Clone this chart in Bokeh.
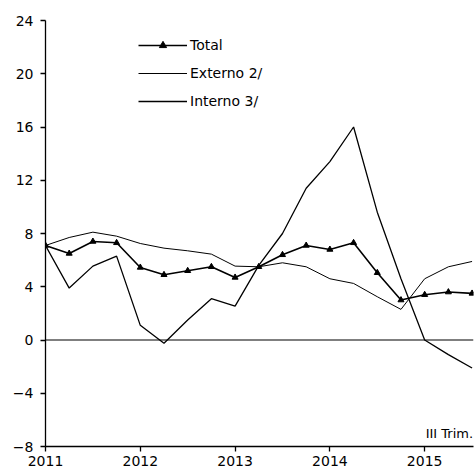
from bokeh.plotting import figure
from bokeh.models import Legend, LegendItem, Span, Label, FixedTicker, Range1d
from bokeh.embed import file_html
from bokeh.resources import INLINE

# Quarterly index: 0 = 2011 Q1 ... 18 = 2015 Q3
quarters = list(range(19))
total = [7.1, 6.5, 7.4, 7.3, 5.45, 4.9, 5.2, 5.5, 4.7, 5.5, 6.4, 7.1, 6.8, 7.3, 5.05, 3.0, 3.4, 3.6, 3.5]
externo = [7.1, 7.7, 8.1, 7.8, 7.25, 6.9, 6.7, 6.45, 5.55, 5.5, 5.8, 5.5, 4.6, 4.25, 3.25, 2.3, 4.6, 5.5, 5.9]
interno = [7.1, 3.9, 5.55, 6.3, 1.1, -0.25, 1.5, 3.1, 2.55, 5.6, 8.0, 11.4, 13.4, 16.0, 9.6, 4.6, 0.0, -1.1, -2.1]

year_ticks = [0, 4, 8, 12, 16]
year_labels = ["2011", "2012", "2013", "2014", "2015"]
y_ticks = [-8, -4, 0, 4, 8, 12, 16, 20, 24]
series_names = ["Total", "Externo 2/", "Interno 3/"]
note_text = "III Trim."

FONT = "DejaVu Sans"

p = figure(width=476, height=471, output_backend="svg", toolbar_location=None,
           x_range=Range1d(0, 18.06), y_range=Range1d(-8, 24),
           min_border_left=45, min_border_right=3, min_border_top=20, min_border_bottom=25)

p.xgrid.visible = False
p.ygrid.visible = False
p.outline_line_color = None
p.background_fill_color = "white"
p.border_fill_color = "white"

# zero line
p.add_layout(Span(location=0, dimension="width", line_color="black", line_width=1.2))

r_ext = p.line(quarters, externo, line_color="black", line_width=1.0)
r_int = p.line(quarters, interno, line_color="black", line_width=1.3)
r_tot = p.line(quarters, total, line_color="black", line_width=1.6)
r_tot_m = p.scatter(quarters, total, marker="triangle", size=6, fill_color="black", line_color="black")

legend = Legend(items=[
    LegendItem(label=series_names[0], renderers=[r_tot, r_tot_m]),
    LegendItem(label=series_names[1], renderers=[r_ext]),
    LegendItem(label=series_names[2], renderers=[r_int]),
], location=(93, 336))
legend.border_line_alpha = 0
legend.background_fill_alpha = 0
legend.padding = 0
legend.margin = 0
legend.spacing = 10
legend.glyph_width = 49
legend.glyph_height = 18
legend.label_height = 18
legend.label_standoff = 3
legend.label_text_font = FONT
legend.label_text_font_size = "14px"
legend.label_text_color = "black"
p.add_layout(legend)

p.add_layout(Label(x=18.0, y=-8, text=note_text, text_align="right", text_baseline="bottom",
                   y_offset=6, x_offset=1, text_font=FONT, text_font_size="13px", text_color="black"))

for ax in (p.xaxis[0], p.yaxis[0]):
    ax.axis_line_color = "black"
    ax.axis_line_width = 1.3
    ax.major_tick_line_color = "black"
    ax.major_tick_line_width = 1.3
    ax.major_tick_in = 0
    ax.major_tick_out = 5
    ax.minor_tick_line_color = None
    ax.major_label_text_font = FONT
    ax.major_label_text_font_size = "14px"
    ax.major_label_text_color = "black"

p.xaxis.ticker = FixedTicker(ticks=year_ticks)
p.xaxis.major_label_overrides = {t: l for t, l in zip(year_ticks, year_labels)}
p.xaxis.major_label_standoff = 4
p.yaxis.ticker = FixedTicker(ticks=y_ticks)
p.yaxis.major_label_standoff = 7

open("out.html", "w").write(file_html(p, INLINE))
